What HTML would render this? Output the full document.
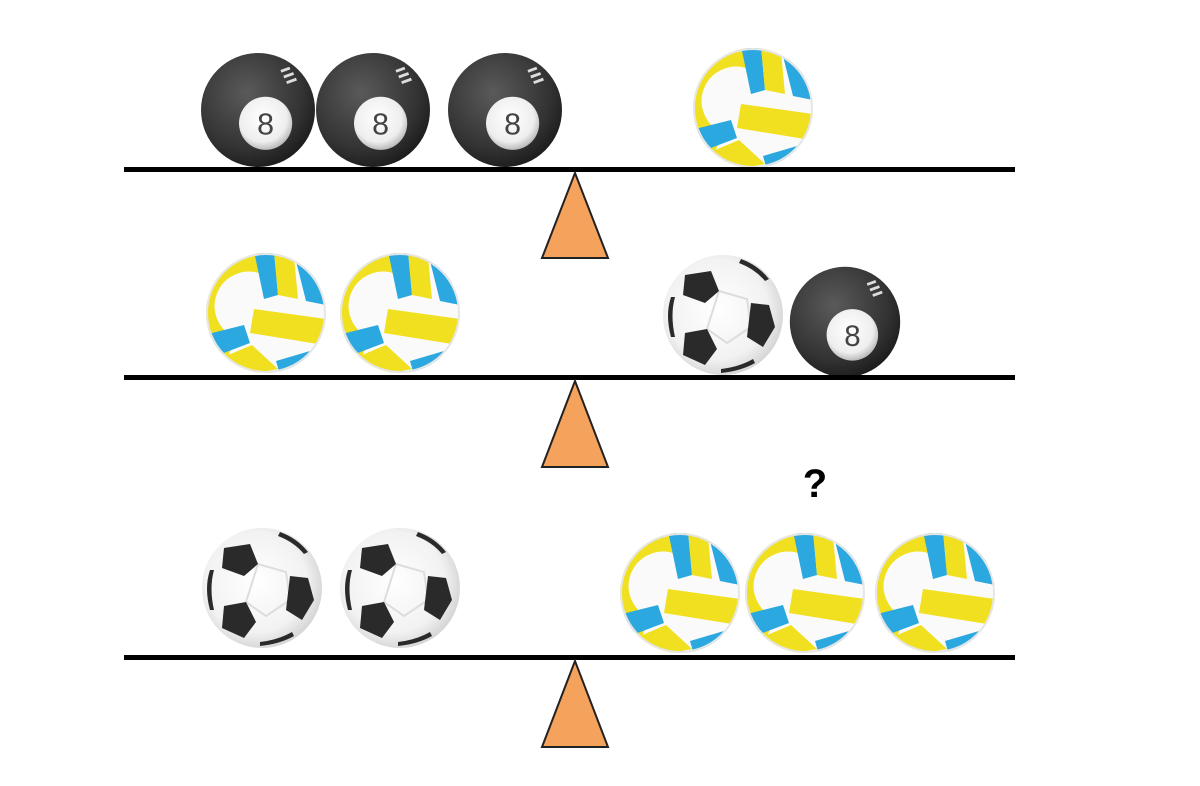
<!DOCTYPE html>
<html><head><meta charset="utf-8"><style>html,body{margin:0;padding:0;background:#fff;}svg{display:block}</style></head>
<body>
<svg width="1200" height="786" viewBox="0 0 1200 786" xmlns="http://www.w3.org/2000/svg">
<defs>
<radialGradient id="bk" cx="0.4" cy="0.35" r="0.7"><stop offset="0" stop-color="#5a5a5a"/><stop offset="0.7" stop-color="#333"/><stop offset="1" stop-color="#1a1a1a"/></radialGradient>
<radialGradient id="wh" cx="0.45" cy="0.4" r="0.6"><stop offset="0" stop-color="#fff"/><stop offset="0.75" stop-color="#eee"/><stop offset="1" stop-color="#bbb"/></radialGradient>
<radialGradient id="sw" cx="0.45" cy="0.45" r="0.6"><stop offset="0" stop-color="#fff"/><stop offset="0.7" stop-color="#f2f2f2"/><stop offset="1" stop-color="#cfcfcf"/></radialGradient>
<clipPath id="cc"><circle cx="0" cy="0" r="60"/></clipPath>
<g id="eight">
<circle r="60" fill="url(#bk)"/>
<circle cx="8" cy="14" r="28" fill="url(#wh)"/>
<text x="8" y="26" font-family="Liberation Sans, sans-serif" font-size="32" text-anchor="middle" fill="#444">8</text>
<g fill="#ddd"><rect x="24" y="-44" width="10" height="3" transform="rotate(-20 29 -42)"/><rect x="27" y="-38" width="11" height="3" transform="rotate(-20 32 -36)"/><rect x="30" y="-32" width="11" height="3" transform="rotate(-20 35 -30)"/></g>
</g>
<g id="volley">
<g clip-path="url(#cc)">
<circle r="60" fill="#fafafa"/>
<path d="M 0,-48 A 44 44 0 0 0 -34 34" fill="none" stroke="#f0e020" stroke-width="20"/>
<polygon points="-12,-62 8,-62 12,-18 -2,-14" fill="#2aa8df"/>
<polygon points="8,-62 28,-56 32,-14 12,-18" fill="#f0e020"/>
<polygon points="30,-52 48,-40 60,-8 40,-12" fill="#2aa8df"/>
<polygon points="-12,-4 60,6 58,32 -16,20" fill="#f0e020"/>
<polygon points="-62,22 -22,12 -16,30 -58,46" fill="#2aa8df"/>
<polygon points="-52,48 -14,32 12,56 -20,62" fill="#f0e020"/>
<polygon points="10,48 44,38 40,58 14,62" fill="#2aa8df"/>
</g>
<circle r="59" fill="none" stroke="#e6e6e6" stroke-width="2"/>
</g>
<g id="soccer">
<circle r="60" fill="url(#sw)"/>
<polygon points="-4,-24 24,-16 28,12 4,28 -16,14" fill="none" stroke="#ddd" stroke-width="2"/>
<g fill="#2a2a2a">
<polygon points="-38,-40 -12,-44 -4,-24 -18,-12 -40,-20"/>
<polygon points="28,-12 46,-10 52,12 40,32 24,22"/>
<polygon points="-38,18 -16,14 -6,34 -18,50 -40,40"/>
<path d="M -52,-18 Q -58,0 -52,22 L -48,22 Q -53,0 -48,-18 Z"/>
<path d="M 18,-56 Q 35,-50 46,-36 L 42,-34 Q 32,-46 16,-52 Z"/>
<path d="M -2,58 Q 18,56 32,48 L 30,44 Q 16,52 -2,54 Z"/>
</g>
</g>
</defs>

<use href="#eight" transform="translate(258,110) scale(0.95)"/>
<use href="#eight" transform="translate(373,110) scale(0.95)"/>
<use href="#eight" transform="translate(505,110) scale(0.95)"/>
<use href="#volley" transform="translate(753,108)"/>
<rect x="124" y="167" width="891" height="5" fill="#000"/>
<polygon points="575,173 542,258 608,258" fill="#f5a35c" stroke="#222" stroke-width="2"/>

<use href="#volley" transform="translate(266,313)"/>
<use href="#volley" transform="translate(400,313)"/>
<use href="#soccer" transform="translate(723,315)"/>
<use href="#eight" transform="translate(845,322) scale(0.92)"/>
<rect x="124" y="375" width="891" height="5" fill="#000"/>
<polygon points="575,381 542,467 608,467" fill="#f5a35c" stroke="#222" stroke-width="2"/>

<text x="815" y="497" font-family="Liberation Sans, sans-serif" font-size="40" font-weight="bold" text-anchor="middle" fill="#000">?</text>
<use href="#soccer" transform="translate(262,588)"/>
<use href="#soccer" transform="translate(400,588)"/>
<use href="#volley" transform="translate(680,593)"/>
<use href="#volley" transform="translate(805,593)"/>
<use href="#volley" transform="translate(935,593)"/>
<rect x="124" y="655" width="891" height="5" fill="#000"/>
<polygon points="575,661 542,747 608,747" fill="#f5a35c" stroke="#222" stroke-width="2"/>
</svg>
</body></html>
